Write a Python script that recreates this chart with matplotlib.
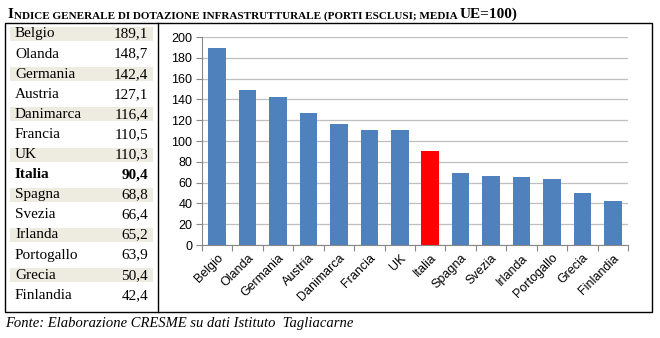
import matplotlib
matplotlib.use('Agg')
import matplotlib.pyplot as plt
from matplotlib.patches import Rectangle
from matplotlib.lines import Line2D
from matplotlib.text import Annotation

# dati
paesi = ['Belgio', 'Olanda', 'Germania', 'Austria', 'Danimarca', 'Francia', 'UK',
         'Italia', 'Spagna', 'Svezia', 'Irlanda', 'Portogallo', 'Grecia', 'Finlandia']
valori = [189.1, 148.7, 142.4, 127.1, 116.4, 110.5, 110.3,
          90.4, 68.8, 66.4, 65.2, 63.9, 50.4, 42.4]
yticks = [0, 20, 40, 60, 80, 100, 120, 140, 160, 180, 200]

W, H = 660, 338
fig = plt.figure(figsize=(W / 100, H / 100), dpi=100)

def fx(x):
    return x / W

def fy(y):
    return 1 - y / H

serif = 'Liberation Serif'

# titolo in maiuscoletto (pezzi concatenati)
pezzi = [('I', 11), ('NDICE GENERALE DI DOTAZIONE INFRASTRUTTURALE (PORTI ESCLUSI; MEDIA ', 8),
         ('UE=100)', 11)]
prev = fig.text(fx(8), fy(18), pezzi[0][0], fontsize=pezzi[0][1], family=serif,
                fontweight='bold', va='baseline', ha='left')
for s, size in pezzi[1:]:
    a = Annotation(s, xy=(1, 0), xycoords=prev, fontsize=size, family=serif,
                   fontweight='bold', va='bottom', ha='left', annotation_clip=False)
    fig.add_artist(a)
    prev = a

# cornice
fig.add_artist(Rectangle((fx(5), fy(312)), fx(652) - fx(5), fy(23) - fy(312),
                         fill=False, edgecolor='black', lw=1.0))
fig.add_artist(Line2D([fx(158), fx(158)], [fy(23), fy(312)], color='black', lw=1.0))

# tabella
for i, (p, v) in enumerate(zip(paesi, valori)):
    yc = 34 + i * 20.1
    if i % 2 == 0:
        fig.add_artist(Rectangle((fx(10), fy(yc + 7)), fx(153) - fx(10), fy(yc - 7) - fy(yc + 7),
                                 facecolor='#EEECE1', edgecolor='none'))
    w = 'bold' if p == 'Italia' else 'normal'
    fig.text(fx(15), fy(yc), p, fontsize=11, family=serif, fontweight=w, va='center', ha='left')
    fig.text(fx(148), fy(yc), f'{v:.1f}'.replace('.', ','), fontsize=11, family=serif,
             fontweight=w, va='center', ha='right')

# grafico
ax = fig.add_axes([fx(202), fy(245), fx(628) - fx(202), fy(37) - fy(245)])
colori = ['#FF0000' if p == 'Italia' else '#4F81BD' for p in paesi]
ax.bar(range(len(paesi)), valori, width=0.58, color=colori, zorder=3)
ax.set_xlim(-0.5, len(paesi) - 0.5)
ax.set_ylim(0, 200)
ax.set_yticks(yticks)
ax.yaxis.grid(True, color='#BFBFBF', lw=0.9, zorder=0)
ax.set_xticks([i - 0.5 for i in range(len(paesi) + 1)])
ax.set_xticklabels([])
ax.set_xticks(range(len(paesi)), minor=True)
ax.set_xticklabels(paesi, minor=True, rotation=45, ha='right', rotation_mode='anchor',
                   fontsize=9, family='Liberation Sans')
ax.tick_params(axis='x', which='minor', length=0, pad=5)
ax.tick_params(axis='x', which='major', length=4, color='#888888')
ax.tick_params(axis='y', length=4, color='#888888', labelsize=9, pad=3)
for l in ax.get_yticklabels():
    l.set_family('Liberation Sans')
for s in ['top', 'right']:
    ax.spines[s].set_visible(False)
for s in ['left', 'bottom']:
    ax.spines[s].set_color('#888888')

# fonte
fig.text(fx(5), fy(324), 'Fonte: Elaborazione CRESME su dati Istituto  Tagliacarne',
         fontsize=10.5, family=serif, style='italic', va='center', ha='left')

fig.savefig('out.png', dpi=100)
